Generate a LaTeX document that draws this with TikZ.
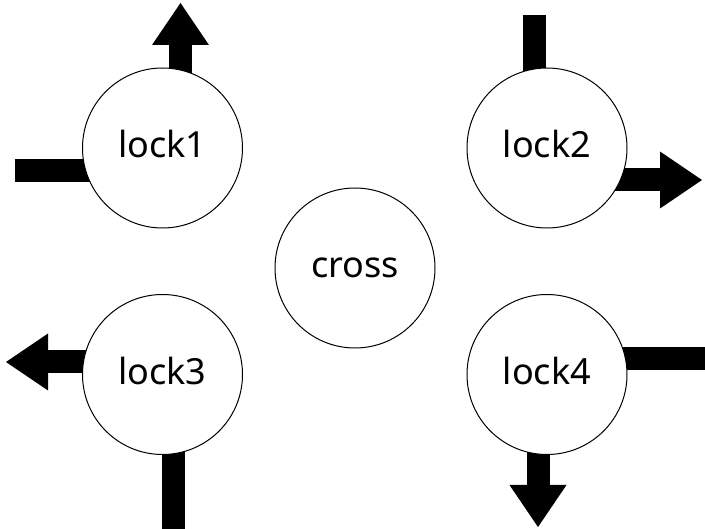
\documentclass[tikz,border=0pt]{standalone}
\usepackage{fontspec}
\setmainfont{Noto Sans}
\usetikzlibrary{positioning,arrows.meta,backgrounds}

\begin{document}
\begin{tikzpicture}[
    x=1pt, y=-1pt,
    >={Triangle[length=42pt,width=57pt,line width=0pt]},
    lock/.style={draw, circle, line width=1pt, fill=white, minimum size=160pt,
                 inner sep=0pt, text height=28pt, text depth=8pt,
                 font=\fontsize{36}{40}\selectfont},
    bar/.style={line width=23pt},
    arr/.style={bar, ->},
  ]
    \useasboundingbox (0,0) rectangle (705,529);
    \node[lock] (lock1) at (162.5,148) {lock1};
    \node[lock, right=223.5pt of lock1] (lock2) {lock2};
    \node[lock, below=65.5pt of lock1] (lock3) {lock3};
    \node[lock, below=65.5pt of lock2] (lock4) {lock4};
    \node[lock] (cross) at (355,268) {cross};
    \coordinate (in1)  at (15,170.5);
    \coordinate (out1) at (180.5,3);
    \coordinate (in2)  at (534,15);
    \coordinate (out2) at (702,180);
    \coordinate (out3) at (6,362);
    \coordinate (in3)  at (173.5,529);
    \coordinate (in4)  at (705,358.5);
    \coordinate (out4) at (538,527);
    \begin{scope}[on background layer]
      \draw[bar] (in1) -- (in1 -| lock1.center);
      \draw[arr] (lock1.center -| out1) -- (out1);
      \draw[bar] (in2) -- (in2 |- lock2.center);
      \draw[arr] (lock2.center |- out2) -- (out2);
      \draw[arr] (lock3.center |- out3) -- (out3);
      \draw[bar] (in3) -- (in3 |- lock3.center);
      \draw[bar] (in4) -- (in4 -| lock4.center);
      \draw[arr] (lock4.center -| out4) -- (out4);
    \end{scope}
\end{tikzpicture}
\end{document}
